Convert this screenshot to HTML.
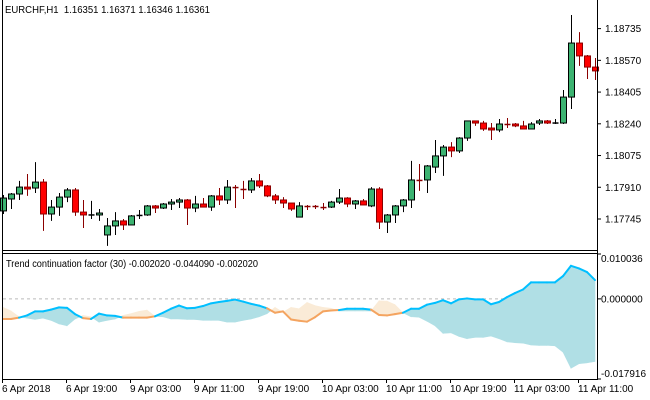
<!DOCTYPE html>
<html><head><meta charset="utf-8">
<style>
html,body{margin:0;padding:0;background:#fff;}
svg{display:block;font-family:"Liberation Sans",sans-serif;}
</style></head>
<body>
<svg id="chart" width="650" height="400" viewBox="0 0 650 400" xmlns="http://www.w3.org/2000/svg">
  <rect x="0" y="0" width="650" height="400" fill="#fff"/>
  <g id="main"></g>
  <g id="ind"></g>
  <line x1="2.5" y1="0" x2="2.5" y2="379" stroke="#000"/>
  <line x1="597.5" y1="0" x2="597.5" y2="380" stroke="#000"/>
  <line x1="2" y1="250.5" x2="598" y2="250.5" stroke="#000"/>
  <line x1="2" y1="253.5" x2="598" y2="253.5" stroke="#000"/>
  <line x1="2" y1="379.5" x2="598" y2="379.5" stroke="#000"/>
  <text x="5" y="13" font-size="10" fill="#000" textLength="205" lengthAdjust="spacingAndGlyphs">EURCHF,H1&#160;&#160;1.16351 1.16371 1.16346 1.16361</text>
  <text x="6" y="267" font-size="10" fill="#000" textLength="252" lengthAdjust="spacingAndGlyphs">Trend continuation factor (30) -0.002020 -0.044090 -0.002020</text>
  <g id="yaxis"></g>
  <g id="iaxis"></g>
  <g id="xaxis"></g>
</svg>
<script>
const opens=[1.17787,1.17849,1.17875,1.17911,1.17906,1.17937,1.17771,1.17807,1.17859,1.17896,1.17781,1.17766,1.17766,1.17662,1.17709,1.17735,1.17714,1.17761,1.17766,1.17813,1.17802,1.17823,1.17833,1.17844,1.17802,1.17823,1.17807,1.17865,1.17844,1.17911,1.17901,1.17896,1.17943,1.17917,1.17865,1.17844,1.17828,1.17755,1.17813,1.17813,1.17807,1.17807,1.17833,1.17854,1.17823,1.17839,1.17813,1.17901,1.17729,1.17766,1.17813,1.17844,1.17948,1.17948,1.18015,1.18073,1.18119,1.18099,1.18166,1.18255,1.18244,1.18218,1.18208,1.18239,1.18239,1.18229,1.18213,1.18244,1.18255,1.18244,1.18244,1.18379,1.18660,1.18593,1.18535];
const highs=[1.17870,1.17880,1.17943,1.17979,1.18041,1.17953,1.17844,1.17880,1.17906,1.17906,1.17844,1.17839,1.17797,1.17750,1.17781,1.17745,1.17766,1.17792,1.17818,1.17818,1.17828,1.17849,1.17854,1.17849,1.17865,1.17854,1.17870,1.17906,1.17948,1.17922,1.17943,1.17958,1.17979,1.17922,1.17875,1.17859,1.17828,1.17833,1.17818,1.17818,1.17828,1.17839,1.17901,1.17859,1.17844,1.17849,1.17911,1.17911,1.17771,1.17818,1.17849,1.18047,1.18031,1.18026,1.18156,1.18130,1.18145,1.18171,1.18255,1.18255,1.18255,1.18244,1.18265,1.18270,1.18244,1.18255,1.18249,1.18265,1.18260,1.18265,1.18416,1.18806,1.18717,1.18598,1.18582];
const lows=[1.17771,1.17797,1.17844,1.17865,1.17880,1.17683,1.17735,1.17761,1.17833,1.17761,1.17698,1.17745,1.17735,1.17605,1.17662,1.17688,1.17714,1.17745,1.17761,1.17776,1.17797,1.17792,1.17802,1.17714,1.17781,1.17807,1.17787,1.17818,1.17823,1.17802,1.17849,1.17880,1.17906,1.17859,1.17823,1.17802,1.17787,1.17755,1.17792,1.17797,1.17792,1.17802,1.17823,1.17807,1.17797,1.17818,1.17807,1.17693,1.17672,1.17724,1.17781,1.17802,1.17891,1.17880,1.17984,1.17969,1.18067,1.18088,1.18151,1.18229,1.18203,1.18156,1.18197,1.18218,1.18223,1.18213,1.18213,1.18234,1.18239,1.18239,1.18239,1.18317,1.18541,1.18473,1.18468];
const closes=[1.17854,1.17875,1.17911,1.17901,1.17937,1.17771,1.17807,1.17859,1.17896,1.17781,1.17766,1.17766,1.17776,1.17709,1.17735,1.17714,1.17761,1.17766,1.17813,1.17802,1.17823,1.17833,1.17844,1.17802,1.17823,1.17807,1.17865,1.17844,1.17911,1.17906,1.17896,1.17943,1.17917,1.17865,1.17844,1.17828,1.17797,1.17813,1.17807,1.17807,1.17802,1.17833,1.17854,1.17823,1.17839,1.17818,1.17901,1.17729,1.17766,1.17813,1.17844,1.17948,1.17943,1.18021,1.18073,1.18119,1.18099,1.18166,1.18255,1.18244,1.18213,1.18208,1.18239,1.18234,1.18229,1.18213,1.18239,1.18255,1.18244,1.18244,1.18379,1.18660,1.18593,1.18535,1.18515];
const tcfLine=[-0.0045,-0.0045,-0.0042,-0.0037,-0.0028,-0.0028,-0.0024,-0.0019,-0.0020,-0.0034,-0.0043,-0.0045,-0.0033,-0.0037,-0.0038,-0.0042,-0.0042,-0.0042,-0.0042,-0.0039,-0.0031,-0.0022,-0.0015,-0.0021,-0.0020,-0.0016,-0.0010,-0.0007,-0.00045,-0.00015,-0.0006,-0.0011,-0.0015,-0.0021,-0.0031,-0.0028,-0.0046,-0.0049,-0.0051,-0.0041,-0.0028,-0.0026,-0.0025,-0.0022,-0.0022,-0.0022,-0.0024,-0.0036,-0.0037,-0.0034,-0.0031,-0.0022,-0.0022,-0.0013,-0.0009,-0.0003,-0.0010,-0.0001,0.0001,-0.0001,-0.0001,-0.0012,-0.0007,0.0004,0.0013,0.0021,0.0037,0.0037,0.0037,0.0037,0.0051,0.0074,0.0068,0.0060,0.0042];
const tcfBand=[-0.0019,-0.0027,-0.0040,-0.0043,-0.0046,-0.0043,-0.0048,-0.0056,-0.0060,-0.0045,-0.0037,-0.0040,-0.0052,-0.0048,-0.0045,-0.0037,-0.0033,-0.0028,-0.0025,-0.0039,-0.0040,-0.0045,-0.0045,-0.0046,-0.0046,-0.0048,-0.0048,-0.0048,-0.0052,-0.0052,-0.0048,-0.0045,-0.0040,-0.0033,-0.0019,-0.0030,-0.0019,-0.0022,-0.0008,-0.0015,-0.0019,-0.0021,-0.0027,-0.0027,-0.0027,-0.0027,-0.0027,-0.00045,-0.0005,-0.0013,-0.0031,-0.0040,-0.0041,-0.0050,-0.0060,-0.0077,-0.0076,-0.0084,-0.0089,-0.0086,-0.0086,-0.0083,-0.0089,-0.0096,-0.0098,-0.0099,-0.0103,-0.0104,-0.0104,-0.0105,-0.0119,-0.0155,-0.0145,-0.0143,-0.0140];
const priceTicks=["1.18735","1.18570","1.18405","1.18240","1.18075","1.17910","1.17745"];
const indTicks=["0.010036","0.000000","-0.017916"];
const timeLabels=["6 Apr 2018","6 Apr 19:00","9 Apr 03:00","9 Apr 11:00","9 Apr 19:00","10 Apr 03:00","10 Apr 11:00","10 Apr 19:00","11 Apr 03:00","11 Apr 11:00"];

const NS="http://www.w3.org/2000/svg";
function mk(tag,attrs,parent){const e=document.createElementNS(NS,tag);for(const k in attrs)e.setAttribute(k,attrs[k]);parent.appendChild(e);return e;}
const xOf=i=>3+8*i;
const yP=p=>219-(p-1.17745)/0.000052;
const iMax=0.010036,iMin=-0.017916,iTop=254,iBot=379;
const yI=v=>iTop+(iMax-v)/(iMax-iMin)*(iBot-iTop);

const main=document.getElementById('main');
for(let i=0;i<opens.length;i++){
  const o=opens[i],h=highs[i],l=lows[i],c=closes[i];
  const bull=c>o,bear=c<o;
  const stroke=bear?'#8B0000':'#000';
  const fill=bull?'#3CB371':(bear?'#FF0000':'#000');
  const g=mk('g',{},main);
  
  
  const x=xOf(i)+0.5;
  mk('line',{x1:x,x2:x,y1:yP(h),y2:yP(l),stroke:stroke,'stroke-width':1},g);
  const top=yP(Math.max(o,c)),bot=yP(Math.min(o,c));
  if(bot-top<1.2){mk('line',{x1:x-3,x2:x+3,y1:(top+bot)/2,y2:(top+bot)/2,stroke:stroke,'stroke-width':1.5},g);}
  else mk('rect',{x:x-3,y:top,width:6,height:bot-top,fill:fill,stroke:stroke,'stroke-width':1},g);
}

const ya=document.getElementById('yaxis');
priceTicks.forEach(t=>{
  const y=yP(parseFloat(t));
  const l=mk('line',{x1:597,x2:601,y1:y,y2:y,stroke:'#000'},ya);
  
  
  const tx=mk('text',{x:605,y:y+3.5,'font-size':10,fill:'#000'},ya);
  
  
  tx.textContent=t;
});

const ind=document.getElementById('ind');
const zl=mk('line',{x1:3,x2:597,y1:yI(0),y2:yI(0),stroke:'#bbb','stroke-dasharray':'3,3'},ind);


const BLUE_F='#B0DFE5',BEIGE_F='#FAEBD7',BLUE_L='#00BFFF',ORANGE_L='#F4A460';
for(let i=0;i<tcfLine.length-1;i++){
  const x0=xOf(i),x1=xOf(i+1);
  const d0=tcfBand[i]-tcfLine[i],d1=tcfBand[i+1]-tcfLine[i+1];
  const segs=[];
  if(d0*d1<0){const t=d0/(d0-d1);segs.push([0,t]);segs.push([t,1]);}else segs.push([0,1]);
  segs.forEach(([a,b])=>{
    const lerp=(arr,t)=>arr[i]+(arr[i+1]-arr[i])*t;
    const xa=x0+(x1-x0)*a,xb=x0+(x1-x0)*b;
    const dm=lerp(tcfBand,(a+b)/2)-lerp(tcfLine,(a+b)/2);
    const p=mk('polygon',{points:`${xa},${yI(lerp(tcfLine,a))} ${xb},${yI(lerp(tcfLine,b))} ${xb},${yI(lerp(tcfBand,b))} ${xa},${yI(lerp(tcfBand,a))}`,fill:dm>0?BEIGE_F:BLUE_F,stroke:dm>0?BEIGE_F:BLUE_F,'stroke-width':0.6},ind);
    
    
  });
}
for(let i=0;i<tcfLine.length-1;i++){
  const up=(tcfBand[i]+tcfBand[i+1])<(tcfLine[i]+tcfLine[i+1]);
  const s=mk('line',{x1:xOf(i),y1:yI(tcfLine[i]),x2:xOf(i+1),y2:yI(tcfLine[i+1]),stroke:up?BLUE_L:ORANGE_L,'stroke-width':2,'stroke-linecap':'round'},ind);
  
  
}

const ia=document.getElementById('iaxis');
indTicks.forEach((t,k)=>{
  const v=parseFloat(t);
  const y=yI(v);
  const l=mk('line',{x1:597,x2:601,y1:y,y2:y,stroke:'#000'},ia);
  
  
  const ty=k===0?y+8:(k===indTicks.length-1?y-2:y+3.5);
  const tx=mk('text',{x:601,y:ty,'font-size':10,fill:'#000'},ia);
  
  
  tx.textContent=t;
});

const xa=document.getElementById('xaxis');
timeLabels.forEach((t,k)=>{
  const x=xOf(8*k)-1;
  const l=mk('line',{x1:x+0.5,x2:x+0.5,y1:379,y2:383,stroke:'#000'},xa);
  
  
  const tx=mk('text',{x:x,y:392,'font-size':10,fill:'#000'},xa);
  
  
  tx.textContent=t;
});
</script>
</body></html>
